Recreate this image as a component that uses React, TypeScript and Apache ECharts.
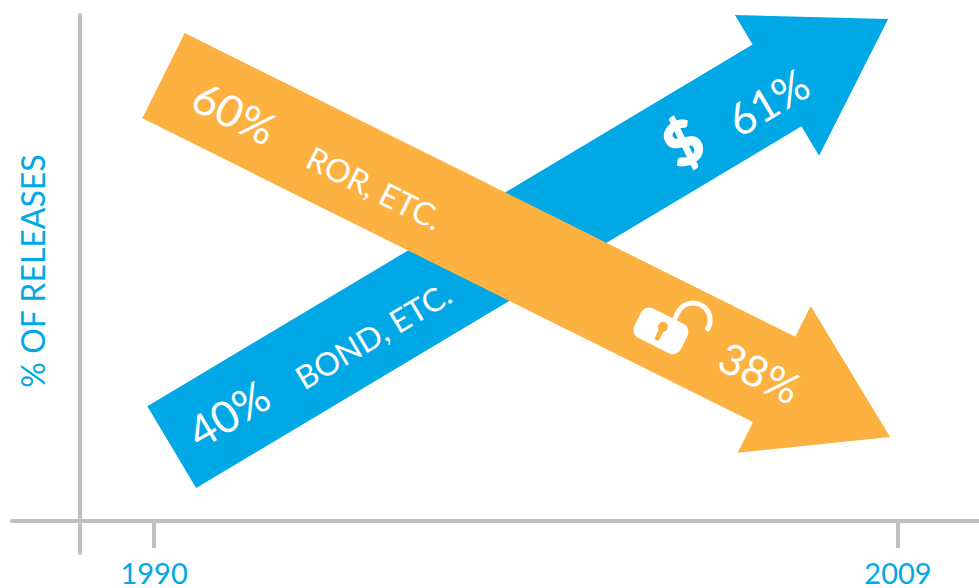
import React, { useEffect, useRef } from "react";
import * as echarts from "echarts";

const yearTicks = [1990, 2009];
const yAxisTitle = "% OF RELEASES";

// Arrow ends: [tail year, tail level, tip year, tip level]
const blueArrow = [1990.45, 14.6, 2008.75, 99.2];
const orangeArrow = [1990.24, 88.0, 2008.8, 16.6];

const blueShares = [40, 61];
const orangeShares = [60, 38];
const blueName = "BOND, ETC.";
const orangeName = "ROR, ETC.";

const BLUE = "#00a8e5";
const ORANGE = "#fdb140";
const GREY = "#c0c0c0";
const FONT = "Lato, 'Open Sans', sans-serif";

type Lbl = { text: string; along: number; perp: number; size: number; weight?: number | string; bold?: number };

function arrowRenderer(color: string, labels: Lbl[], withLock: boolean) {
  return (_params: any, api: any) => {
    const a = api.coord([api.value(0), api.value(1)]);
    const b = api.coord([api.value(2), api.value(3)]);
    const dx = b[0] - a[0];
    const dy = b[1] - a[1];
    const len = Math.hypot(dx, dy);
    const ux = dx / len;
    const uy = dy / len;
    const nx = -uy;
    const ny = ux;
    const shaft = 47.6;
    const head = 82;
    const headLen = 129.5;
    const at = (s: number, p: number) => [a[0] + ux * s + nx * p, a[1] + uy * s + ny * p];
    const n = len - headLen;
    const points = [at(0, -shaft), at(n, -shaft), at(n, -head), at(len, 0), at(n, head), at(n, shaft), at(0, shaft)];
    const rot = -Math.atan2(dy, dx);
    const children: any[] = [{ type: "polygon", shape: { points }, style: { fill: color } }];
    for (const l of labels) {
      const p = at(l.along, l.perp);
      children.push({
        type: "text",
        x: p[0],
        y: p[1],
        rotation: rot,
        style: {
          text: l.text,
          fill: "#ffffff",
          font: `${l.weight ?? 400} ${l.size}px ${FONT}`,
          textAlign: "center",
          textVerticalAlign: "middle",
          ...(l.bold ? { stroke: "#ffffff", lineWidth: l.bold } : {}),
        },
      });
    }
    if (withLock) {
      const p = at(559, 7);
      children.push({
        type: "group",
        x: p[0],
        y: p[1],
        rotation: rot,
        children: [
          {
            type: "arc",
            shape: { cx: 24, cy: -24, r: 17, startAngle: Math.PI, endAngle: Math.PI * 2 + 0.2, clockwise: true },
            style: { stroke: "#ffffff", lineWidth: 5, fill: "none" },
          },
          { type: "line", shape: { x1: 7, y1: -24, x2: 7, y2: -12 }, style: { stroke: "#ffffff", lineWidth: 5 } },
          { type: "rect", shape: { x: -26, y: -16.5, width: 52, height: 33, r: 9 }, style: { fill: "#ffffff" } },
          { type: "circle", shape: { cx: 0, cy: -4.5, r: 5 }, style: { fill: color } },
          {
            type: "line",
            shape: { x1: 0, y1: -4, x2: 0, y2: 8 },
            style: { stroke: color, lineWidth: 5, lineCap: "round" },
          },
        ],
      });
    }
    return { type: "group", children };
  };
}

export default function App() {
  const ref = useRef<HTMLDivElement>(null);
  useEffect(() => {
    document.body.style.margin = "0";
    const chart = echarts.init(ref.current!, undefined, { renderer: "svg" });
    chart.setOption({
      animation: false,
      backgroundColor: "#ffffff",
      grid: { left: 12, right: 0, top: 15, bottom: 35, containLabel: false, outerBoundsMode: "none" },
      xAxis: {
        type: "value",
        min: 1986.37,
        max: 2011.07,
        splitLine: { show: false },
        axisLine: { show: true, onZero: true, lineStyle: { color: GREY, width: 4 } },
        axisTick: { show: true, customValues: yearTicks, length: 27, lineStyle: { color: GREY, width: 4 } },
        axisLabel: {
          show: true,
          customValues: yearTicks,
          formatter: (v: number) => String(v),
          color: BLUE,
          fontFamily: FONT,
          fontSize: 29,
          lineHeight: 24,
          margin: 7,
          hideOverlap: false,
          showMinLabel: true,
          showMaxLabel: true,
        },
      },
      yAxis: {
        type: "value",
        min: -6.32,
        max: 100,
        offset: -68,
        splitLine: { show: false },
        axisLine: { show: true, onZero: false, lineStyle: { color: GREY, width: 4 } },
        axisTick: { show: false },
        axisLabel: { show: false },
        name: yAxisTitle,
        nameLocation: "middle",
        nameRotate: 90,
        nameGap: 32,
        nameTextStyle: { color: BLUE, fontFamily: FONT, fontSize: 32, fontWeight: 400, padding: [0, 0, 0, 26] },
      },
      series: [
        {
          type: "custom",
          name: "Bond",
          clip: false,
          data: [blueArrow],
          encode: { x: [0, 2], y: [1, 3] },
          renderItem: arrowRenderer(
            BLUE,
            [
              { text: `${blueShares[0]}%`, along: 66, perp: 0, size: 44 },
              { text: blueName, along: 230, perp: 7, size: 32 },
              { text: "$", along: 595, perp: 0, size: 60, weight: 900, bold: 1.5 },
              { text: `${blueShares[1]}%`, along: 689, perp: 9, size: 44 },
            ],
            false
          ),
        },
        {
          type: "custom",
          name: "Ror",
          clip: false,
          data: [orangeArrow],
          encode: { x: [0, 2], y: [1, 3] },
          renderItem: arrowRenderer(
            ORANGE,
            [
              { text: `${orangeShares[0]}%`, along: 80, perp: 1, size: 44 },
              { text: orangeName, along: 239, perp: 6, size: 32 },
              { text: `${orangeShares[1]}%`, along: 666, perp: 0, size: 43 },
            ],
            true
          ),
        },
      ],
    });
    return () => chart.dispose();
  }, []);
  return <div ref={ref} style={{ width: 979, height: 588 }} />;
}
